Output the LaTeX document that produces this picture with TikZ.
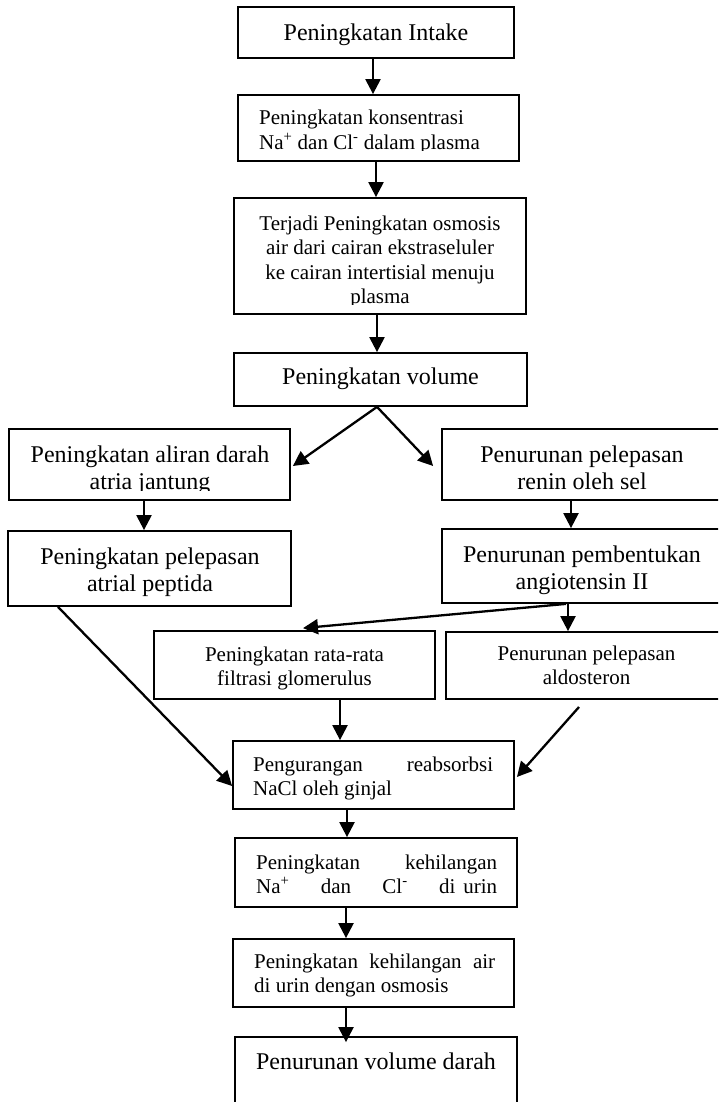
\documentclass[tikz,border=0pt]{standalone}
\usepackage{fontspec}
\setmainfont{Liberation Serif}
\usetikzlibrary{arrows.meta,calc,fit}
\newcommand\fbig{\fontsize{24}{27}\selectfont}
\newcommand\fsmall{\fontsize{21}{24.3}\selectfont}
\tikzset{
  box/.style={draw, line width=1.8pt, inner sep=0pt, rectangle},
  txt/.style={inner sep=0pt, anchor=base},
  txtl/.style={inner sep=0pt, anchor=base west},
  conn/.style={line width=2.3pt, -{Triangle[length=15pt,width=15pt]}}
}
\begin{document}
\begin{tikzpicture}[x=1pt,y=-1pt]
\useasboundingbox (0,0) rectangle (718,1102);
\fill[white] (0,0) rectangle (718,1102);
\clip (0,0) rectangle (718,1102);

% boxes
\node[box, fit={(238,7) (514,58)}] (B1) {};
\node[box, fit={(238,95) (519,161)}] (B2) {};
\node[box, fit={(234,198) (526,314)}] (B3) {};
\node[box, fit={(234,353) (527,406)}] (B4) {};
\node[box, fit={(9,429) (290,500)}] (L1) {};
\node[box, fit={(442,429) (722,500)}] (R1) {};
\node[box, fit={(8,531) (291,606)}] (L2) {};
\node[box, fit={(442,529) (722,603)}] (R2) {};
\node[box, fit={(154,631) (435,699)}] (M1) {};
\node[box, fit={(446,632) (727,699)}] (M2) {};
\node[box, fit={(233,741) (514,809)}] (C1) {};
\node[box, fit={(235,838) (517,907)}] (C2) {};
\node[box, fit={(233,939) (514,1007)}] (C3) {};
\node[box, fit={(235,1037) (517,1110)}] (C4) {};

% texts
\node[txt] at (376,40.5) {\fbig Peningkatan Intake};
\begin{scope}
  \clip (238,95) rectangle (519,151);
  \node[txtl] at (259,125) {\fsmall\begin{tabular}[t]{@{}l@{}}Peningkatan konsentrasi\\ Na\textsuperscript{+}\ dan\ Cl\textsuperscript{-}\ dalam plasma\end{tabular}};
\end{scope}
\begin{scope}
  \clip (234,198) rectangle (526,304);
  \node[txt] at (380,230.5) {\fsmall\begin{tabular}[t]{@{}c@{}}Terjadi Peningkatan osmosis\\ air dari cairan ekstraseluler\\ ke cairan intertisial menuju\\ plasma\end{tabular}};
\end{scope}
\node[txt] at (380.5,384) {\fbig Peningkatan volume};
\begin{scope}
  \clip (9,429) rectangle (290,490);
  \node[txt] at (150,462) {\fbig\begin{tabular}[t]{@{}c@{}}Peningkatan aliran darah\\ atria jantung\end{tabular}};
\end{scope}
\node[txt] at (582,462) {\fbig\begin{tabular}[t]{@{}c@{}}Penurunan pelepasan\\ renin oleh sel\end{tabular}};
\node[txt] at (150,564) {\fbig\begin{tabular}[t]{@{}c@{}}Peningkatan pelepasan\\ atrial peptida\end{tabular}};
\node[txt] at (582,562.5) {\fbig\begin{tabular}[t]{@{}c@{}}Penurunan pembentukan\\ angiotensin II\end{tabular}};
\node[txt] at (294.5,661) {\fsmall\begin{tabular}[t]{@{}c@{}}Peningkatan rata-rata\\ filtrasi glomerulus\end{tabular}};
\node[txt] at (586.5,660) {\fsmall\begin{tabular}[t]{@{}c@{}}Penurunan pelepasan\\ aldosteron\end{tabular}};
\node[txtl] at (253,771) {\fsmall\begin{tabular}[t]{@{}l@{}}\hbox to 240pt{Pengurangan\hfill reabsorbsi}\\ NaCl oleh ginjal\end{tabular}};
\node[txtl] at (256,869) {\fsmall\begin{tabular}[t]{@{}l@{}}\hbox to 241pt{Peningkatan\hfill kehilangan}\\ \hbox to 241pt{Na\textsuperscript{+}\hfill dan\hfill Cl\textsuperscript{-}\hfill di\hspace{8pt}urin}\end{tabular}};
\node[txtl] at (254,968) {\fsmall\begin{tabular}[t]{@{}l@{}}\hbox to 241pt{Peningkatan\hfill kehilangan\hfill air}\\ di urin dengan osmosis\end{tabular}};
\node[txt] at (376,1069) {\fbig Penurunan volume darah};

% connectors
\draw[conn] (373,0 |- B1.south) -- (373,0 |- B2.north);
\draw[conn] (376,0 |- B2.south) -- (376,0 |- B3.north);
\draw[conn] (377,0 |- B3.south) -- (377,0 |- B4.north);
\draw[conn] (377,0 |- B4.south) -- ($(L1.east)+(2,1.5)$);
\draw[conn] (377,0 |- B4.south) -- ($(R1.west)+(-8,1.5)$);
\draw[conn] (144,0 |- L1.south) -- (144,0 |- L2.north);
\draw[conn] (571,0 |- R1.south) -- (571,0 |- R2.north);
\draw[conn] (566,0 |- R2.south) -- ($(303,0 |- M1.north)+(0,-2)$);
\draw[conn] (568,0 |- R2.south) -- (568,0 |- M2.north);
\draw[conn] (58,0 |- L2.south) -- ($(C1.west)+(0,11)$);
\draw[conn] (340,0 |- M1.south) -- (340,0 |- C1.north);
\coordinate (g) at (579,707);
\draw[conn] (g) -- ($(C1.east)+(2,2)$);
\draw[conn] (347,0 |- C1.south) -- (347,0 |- C2.north);
\draw[conn] (346,0 |- C2.south) -- (346,0 |- C3.north);
\draw[conn] (346,0 |- C3.south) -- ($(346,0 |- C4.north)+(0,6)$);
\end{tikzpicture}
\end{document}
